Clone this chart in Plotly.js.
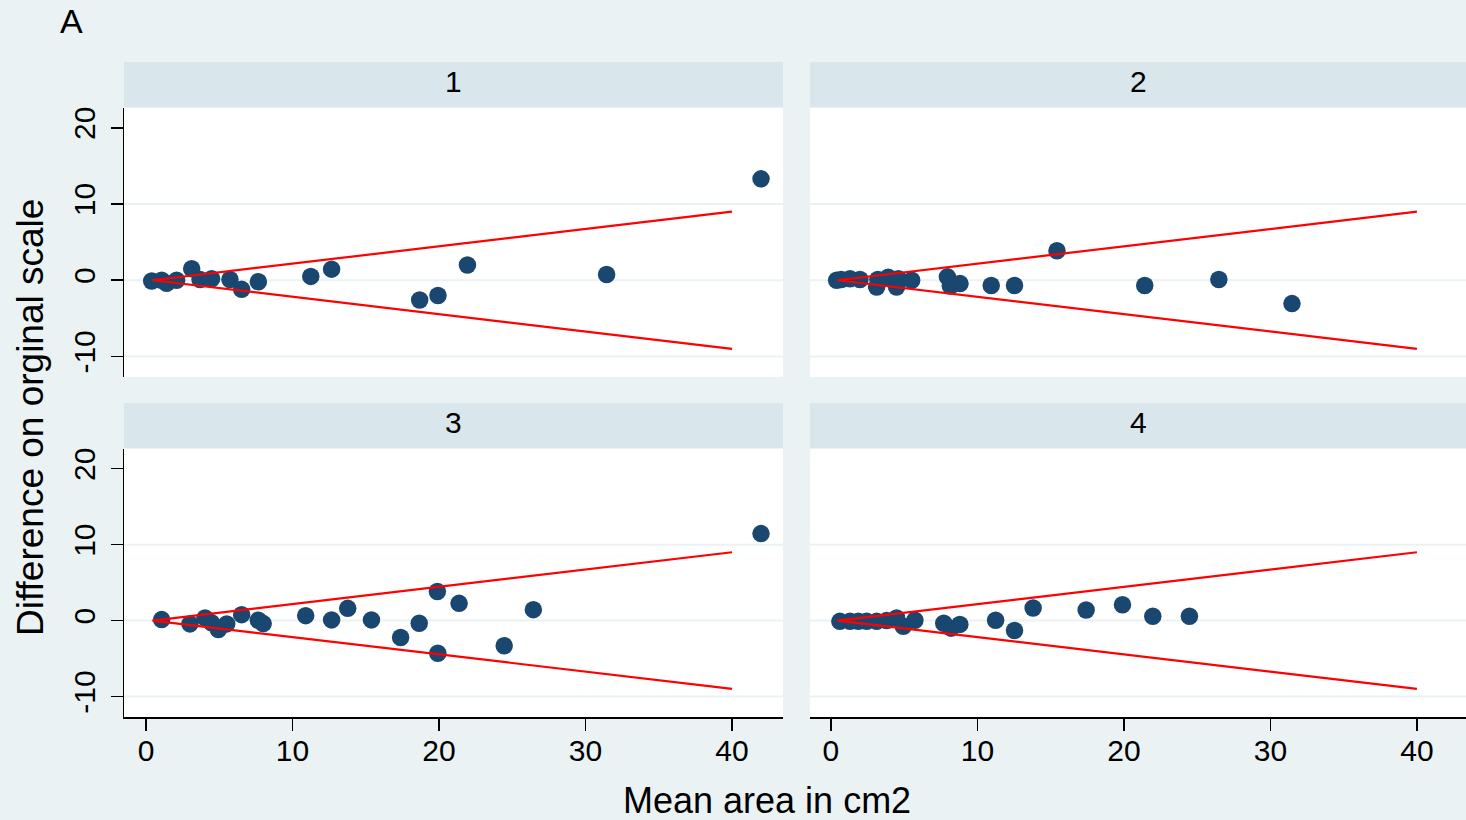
<!DOCTYPE html>
<html>
<head>
<meta charset="utf-8">
<script src="https://cdn.plot.ly/plotly-3.0.1.min.js"></script>
<style>html,body{margin:0;padding:0;background:#EAF2F3;}#chart{width:1466px;height:820px;}</style>
</head>
<body>
<div id="chart"></div>
<script>
// ---- data ----
const panelLabels = ["1", "2", "3", "4"];
const xTicks = [0, 10, 20, 30, 40];
const yTicks = [-10, 0, 10, 20];
const gridVals = [-10, 0, 10];

const p1x = [0.39, 1.07, 1.41, 2.09, 3.12, 3.69, 4.48, 5.73, 6.53, 7.67, 11.25, 12.67, 18.68, 19.93, 21.94, 31.44, 41.98];
const p1y = [-0.1, 0.0, -0.4, 0.0, 1.5, 0.1, 0.2, 0.1, -1.2, -0.2, 0.5, 1.45, -2.6, -2.0, 2.0, 0.75, 13.3];

const p2x = [0.39, 0.7, 1.30, 1.98, 3.12, 3.2, 3.91, 4.48, 4.6, 5.51, 7.95, 8.15, 8.81, 10.94, 12.53, 15.43, 21.42, 26.48, 31.47];
const p2y = [0.0, 0.1, 0.2, 0.1, -0.9, 0.1, 0.4, -0.9, 0.2, 0.0, 0.44, -0.75, -0.44, -0.7, -0.7, 3.86, -0.7, 0.09, -3.07];

const p3x = [1.07, 3.0, 4.03, 4.48, 4.94, 5.51, 6.53, 7.67, 8.0, 10.9, 12.67, 13.77, 15.39, 17.38, 18.65, 19.89, 19.92, 21.37, 24.45, 26.44, 41.98];
const p3y = [0.13, -0.44, 0.35, -0.3, -1.18, -0.44, 0.78, 0.04, -0.4, 0.65, 0.09, 1.61, 0.09, -2.22, -0.35, 3.83, -4.31, 2.27, -3.31, 1.44, 11.46];

const p4x = [0.61, 1.3, 1.87, 2.44, 3.12, 3.8, 4.48, 4.94, 5.73, 7.7, 8.2, 8.8, 11.24, 12.53, 13.8, 17.42, 19.9, 21.97, 24.47];
const p4y = [-0.1, -0.1, -0.1, -0.1, -0.1, 0.0, 0.35, -0.74, 0.04, -0.35, -1.0, -0.5, 0.05, -1.31, 1.66, 1.39, 2.09, 0.57, 0.57];

const limitX = [0.45, 40];
const upperY = [0, 9];
const lowerY = [0, -9];

// ---- styling ----
const W = 1466, H = 820;
const navy = "#1A476F", red = "#FF0000", bg = "#EAF2F3", strip = "#D9E6EB";
const font = "Liberation Sans, Arial, Helvetica, sans-serif";

const px = v => v / W;
const py = v => 1 - v / H;

const panels = [
  {xs: p1x, ys: p1y, xd: [px(124), px(783)], yd: [py(377), py(108)], xr: [-1.50, 43.48], strip: [62, 107], left: true, bottom: false},
  {xs: p2x, ys: p2y, xd: [px(810), 1], yd: [py(377), py(108)], xr: [-1.43, 43.35], strip: [62, 107], left: false, bottom: false},
  {xs: p3x, ys: p3y, xd: [px(124), px(783)], yd: [py(717), py(449)], xr: [-1.50, 43.48], strip: [403, 448], left: true, bottom: true},
  {xs: p4x, ys: p4y, xd: [px(810), 1], yd: [py(717), py(449)], xr: [-1.43, 43.35], strip: [403, 448], left: false, bottom: true}
];

const traces = [];
const shapes = [];
const annotations = [];
const layout = {
  width: W, height: H,
  margin: {l: 0, r: 0, t: 0, b: 0},
  paper_bgcolor: bg, plot_bgcolor: "#FFFFFF",
  showlegend: false,
  font: {family: font, color: "#000"}
};

panels.forEach((p, i) => {
  const n = i + 1;
  const xa = "x" + (n === 1 ? "" : n), ya = "y" + (n === 1 ? "" : n);
  traces.push({
    type: "scatter", mode: "markers", x: p.xs, y: p.ys, xaxis: xa, yaxis: ya,
    marker: {color: navy, size: 17.5, line: {width: 0}}, hoverinfo: "skip"
  });
  traces.push({
    type: "scatter", mode: "lines", x: limitX, y: upperY, xaxis: xa, yaxis: ya,
    line: {color: red, width: 2.2}, hoverinfo: "skip"
  });
  traces.push({
    type: "scatter", mode: "lines", x: limitX, y: lowerY, xaxis: xa, yaxis: ya,
    line: {color: red, width: 2.2}, hoverinfo: "skip"
  });

  layout["xaxis" + (n === 1 ? "" : n)] = {
    domain: p.xd, range: p.xr, anchor: ya,
    showgrid: false, zeroline: false,
    tickvals: xTicks, ticktext: xTicks.map(String),
    showline: p.bottom, linecolor: "#000", linewidth: 1.5,
    ticks: p.bottom ? "outside" : "", ticklen: 12, tickwidth: 1.5, tickcolor: "#000",
    showticklabels: p.bottom, ticklabelstandoff: -6,
    tickfont: {family: font, size: 30, color: "#000"}, fixedrange: true
  };
  layout["yaxis" + (n === 1 ? "" : n)] = {
    domain: p.yd, range: [-12.7, 22.6], anchor: xa,
    showgrid: false, zeroline: false,
    tickvals: yTicks, ticktext: yTicks.map(String), tickangle: -90,
    showline: p.left, linecolor: "#000", linewidth: 1.5,
    ticks: p.left ? "outside" : "", ticklen: 12, tickwidth: 1.5, tickcolor: "#000",
    showticklabels: p.left, ticklabelstandoff: 4,
    tickfont: {family: font, size: 30, color: "#000"}, fixedrange: true
  };

  gridVals.forEach(g => {
    shapes.push({
      type: "line", layer: "below", xref: xa + " domain", yref: ya,
      x0: 0, x1: 1, y0: g, y1: g, line: {color: bg, width: 2}
    });
  });

  shapes.push({
    type: "rect", layer: "below", xref: "paper", yref: "paper",
    x0: p.xd[0], x1: p.xd[1], y0: py(p.strip[1]), y1: py(p.strip[0]),
    fillcolor: strip, line: {width: 0}
  });
  annotations.push({
    xref: "paper", yref: "paper", x: (p.xd[0] + p.xd[1]) / 2, y: py((p.strip[0] + p.strip[1]) / 2 - 3),
    text: panelLabels[i], showarrow: false, xanchor: "center", yanchor: "middle",
    font: {family: font, size: 30, color: "#000"}
  });
});

annotations.push({
  xref: "paper", yref: "paper", x: px(71), y: py(21), text: "A", showarrow: false,
  xanchor: "center", yanchor: "middle", font: {family: font, size: 34, color: "#000"}
});
annotations.push({
  xref: "paper", yref: "paper", x: px(767), y: py(800), text: "Mean area in cm2", showarrow: false,
  xanchor: "center", yanchor: "middle", font: {family: font, size: 36, color: "#000"}
});
annotations.push({
  xref: "paper", yref: "paper", x: px(30), y: py(418), text: "Difference on orginal scale", showarrow: false,
  textangle: -90, xanchor: "center", yanchor: "middle", font: {family: font, size: 37, color: "#000"}
});

layout.shapes = shapes;
layout.annotations = annotations;

Plotly.newPlot("chart", traces, layout, {displayModeBar: false, staticPlot: true});
</script>
</body>
</html>
